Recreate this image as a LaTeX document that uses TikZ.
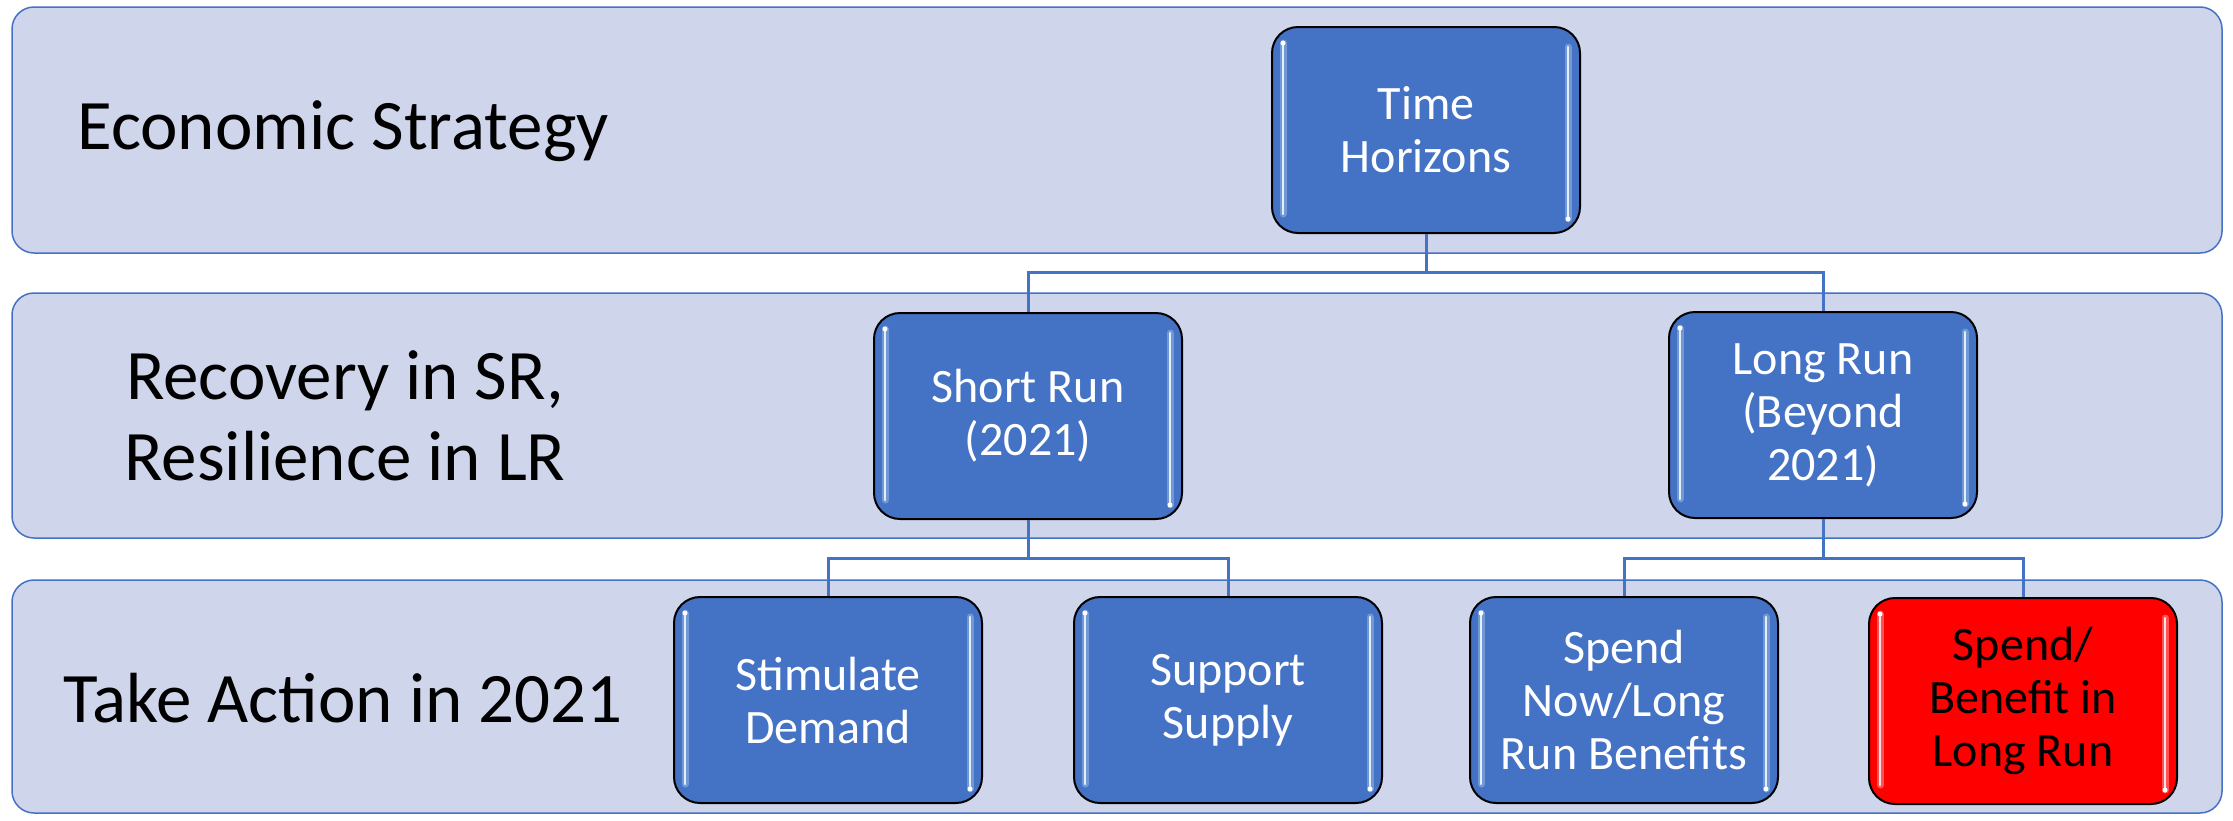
\documentclass[tikz,border=0pt]{standalone}
\usepackage{fontspec}
\setmainfont{Carlito}
\definecolor{bandfill}{HTML}{CFD5EA}
\definecolor{accent}{HTML}{4472C4}
\definecolor{glowblue}{HTML}{8FB4E3}
\definecolor{coreblue}{HTML}{E2EEFA}
\definecolor{glowred}{HTML}{FF8A8A}
\definecolor{corered}{HTML}{FFE0E0}
\tikzset{
  band/.style={draw=accent, line width=1.5pt, fill=bandfill, rounded corners=22pt},
  lbl/.style={font=\fontsize{71}{81}\selectfont, align=center, text=black, inner sep=0pt},
  card/.style={draw=black, line width=2pt, fill=accent, rounded corners=26pt,
    minimum width=308pt, minimum height=206pt, inner sep=0pt,
    font=\fontsize{48}{53}\selectfont, text=white, align=center},
  hot/.style={card, fill=red, text=black},
  link/.style={draw=accent, line width=3pt},
}
% glossy side highlights of a card: #1 node name, #2 glow colour, #3 core colour
\newcommand{\cardgloss}[3]{%
  \draw[#2, line width=7pt, line cap=round, opacity=0.6]
    ([xshift=12pt,yshift=-17pt]#1.north west) -- ([xshift=12pt,yshift=20pt]#1.south west);
  \draw[#3, line width=2.5pt, line cap=round]
    ([xshift=12pt,yshift=-17pt]#1.north west) -- ([xshift=12pt,yshift=20pt]#1.south west);
  \fill[white] ([xshift=12pt,yshift=-17pt]#1.north west) circle (2.5pt);
  \draw[#2, line width=7pt, line cap=round, opacity=0.6]
    ([xshift=-13pt,yshift=-21pt]#1.north east) -- ([xshift=-13pt,yshift=15pt]#1.south east);
  \draw[#3, line width=2.5pt, line cap=round]
    ([xshift=-13pt,yshift=-21pt]#1.north east) -- ([xshift=-13pt,yshift=15pt]#1.south east);
  \fill[white] ([xshift=-13pt,yshift=15pt]#1.south east) circle (2.5pt);
}
\begin{document}
\begin{tikzpicture}[x=1pt,y=-1pt]
  \useasboundingbox (0,0) rectangle (2233,820);

  % horizontal bands
  \draw[band] (12,7) rectangle (2222,253);
  \draw[band] (12,293) rectangle (2222,538);
  \draw[band] (12,580) rectangle (2222,813);

  % band captions
  \node[lbl] (l1) at (343,131) {Economic Strategy};
  \node[lbl] (l2) at (345,416) {Recovery in SR,\\Resilience in LR};
  \node[lbl] (l3) at (343,698) {Take Action in 2021};

  % bus levels
  \coordinate (bus1) at (0,272);
  \coordinate (bus2) at (0,558);

  % cards
  \node[card] (th) at (1426,130) {Time\\Horizons};
  \node[card] (sr) at (1028,416) {Short Run\\(2021)};
  \node[card] (lr) at (1823,415) {Long Run\\(Beyond\\2021)};
  \node[card] (sd) at (828,700) {Stimulate\\Demand};
  \node[card] (ss) at (1228,700) {Support\\Supply};
  \node[card] (sn) at (1624,700) {Spend\\Now/Long\\Run Benefits};
  \node[hot]  (sb) at (2023,701) {Spend/\\Benefit in\\Long Run};

  % tree connectors
  \draw[link] (th.south) -- (th.south |- bus1) -| (sr.north);
  \draw[link] (th.south |- bus1) -| (lr.north);
  \draw[link] (sr.south) -- (sr.south |- bus2) -| (sd.north);
  \draw[link] (sr.south |- bus2) -| (ss.north);
  \draw[link] (lr.south) -- (lr.south |- bus2) -| (sn.north);
  \draw[link] (lr.south |- bus2) -| (sb.north);

  % highlights
  \cardgloss{th}{glowblue}{coreblue}
  \cardgloss{sr}{glowblue}{coreblue}
  \cardgloss{lr}{glowblue}{coreblue}
  \cardgloss{sd}{glowblue}{coreblue}
  \cardgloss{ss}{glowblue}{coreblue}
  \cardgloss{sn}{glowblue}{coreblue}
  \cardgloss{sb}{glowred}{corered}
\end{tikzpicture}
\end{document}
